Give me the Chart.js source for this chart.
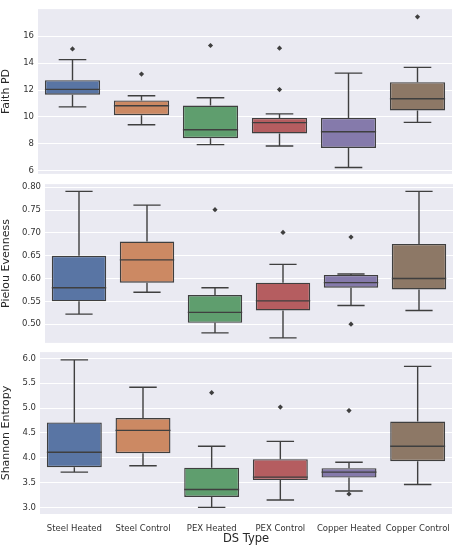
<!DOCTYPE html>
<html>
<head>
<meta charset="utf-8">
<script src="https://cdn.jsdelivr.net/npm/chart.js@4.4.1/dist/chart.umd.min.js"></script>
<style>
  html, body { margin: 0; padding: 0; background: #fff; }
  #wrap { position: relative; width: 461px; height: 550px; }
  .panel { position: absolute; left: 0; width: 461px; }
</style>
</head>
<body>
<div id="wrap">
  <div class="panel" style="top:0;height:183px"><canvas id="faith"></canvas></div>
  <div class="panel" style="top:175px;height:177px"><canvas id="pielou"></canvas></div>
  <div class="panel" style="top:343px;height:207px"><canvas id="shannon"></canvas></div>
</div>
<script>
// categories
const categories = ['Steel Heated', 'Steel Control', 'PEX Heated', 'PEX Control', 'Copper Heated', 'Copper Control'];
const boxColors = ['#5975a4', '#cc8963', '#5f9e6e', '#b55d60', '#857aab', '#8d7866'];

// Faith PD
const faithLow  = [10.75, 9.43, 7.95, 7.85, 6.25, 9.6];
const faithQ1   = [11.65, 10.13, 8.43, 8.78, 7.7, 10.48];
const faithMed  = [12.05, 10.83, 9.05, 9.58, 8.9, 11.35];
const faithQ3   = [12.73, 11.23, 10.85, 9.93, 9.93, 12.58];
const faithHigh = [14.25, 11.58, 11.43, 10.23, 13.25, 13.68];
const faithOut  = [[15.05], [13.18], [15.3], [15.1, 12.03], [], [17.43]];
const faithTicks = [6, 8, 10, 12, 14, 16];

// Pielou Evenness
const pielouLow  = [0.522, 0.570, 0.481, 0.470, 0.541, 0.530];
const pielouQ1   = [0.550, 0.591, 0.503, 0.530, 0.580, 0.576];
const pielouMed  = [0.580, 0.641, 0.526, 0.551, 0.591, 0.600];
const pielouQ3   = [0.650, 0.681, 0.564, 0.591, 0.608, 0.676];
const pielouHigh = [0.791, 0.761, 0.580, 0.631, 0.610, 0.791];
const pielouOut  = [[], [], [0.751], [0.701], [0.691, 0.500], []];
const pielouTicks = [0.50, 0.55, 0.60, 0.65, 0.70, 0.75, 0.80];

// Shannon Entropy
const shannonLow  = [3.71, 3.84, 3.00, 3.15, 3.33, 3.46];
const shannonQ1   = [3.81, 4.09, 3.21, 3.55, 3.60, 3.93];
const shannonMed  = [4.11, 4.55, 3.36, 3.61, 3.71, 4.23];
const shannonQ3   = [4.71, 4.80, 3.80, 3.97, 3.79, 4.73];
const shannonHigh = [5.97, 5.42, 4.23, 4.33, 3.91, 5.84];
const shannonOut  = [[], [], [5.31], [5.02], [4.95, 3.27], []];
const shannonTicks = [3.0, 3.5, 4.0, 4.5, 5.0, 5.5, 6.0];

const EDGE = '#3f3f3f';
const FONT = "'DejaVu Sans', sans-serif";

// фон области графика
const bgPlugin = {
    id: 'bg',
    beforeDraw(chart) {
        const { ctx, chartArea: a } = chart;
        ctx.save();
        ctx.fillStyle = '#eaeaf2';
        ctx.fillRect(a.left, a.top, a.right - a.left, a.bottom - a.top);
        ctx.restore();
    }
};

// усы и медиана (статистика берётся из options.plugins.boxparts)
const boxPlugin = {
    id: 'boxparts',
    beforeDatasetsDraw(chart, args, s) {
        if (!s || !s.low) return;
        const ys = chart.scales.y;
        const meta = chart.getDatasetMeta(0);
        const ctx = chart.ctx;
        ctx.save();
        ctx.strokeStyle = EDGE;
        ctx.lineWidth = 1.4;
        meta.data.forEach((bar, i) => {
            const x = bar.x;
            const cap = bar.width / 4;
            const pLow = ys.getPixelForValue(s.low[i]);
            const pQ1 = ys.getPixelForValue(s.q1[i]);
            const pQ3 = ys.getPixelForValue(s.q3[i]);
            const pHigh = ys.getPixelForValue(s.high[i]);
            ctx.beginPath();
            ctx.moveTo(x, pQ1); ctx.lineTo(x, pLow);
            ctx.moveTo(x - cap, pLow); ctx.lineTo(x + cap, pLow);
            ctx.moveTo(x, pQ3); ctx.lineTo(x, pHigh);
            ctx.moveTo(x - cap, pHigh); ctx.lineTo(x + cap, pHigh);
            ctx.stroke();
        });
        ctx.restore();
    },
    afterDatasetsDraw(chart, args, s) {
        if (!s || !s.med) return;
        const ys = chart.scales.y;
        const meta = chart.getDatasetMeta(0);
        const ctx = chart.ctx;
        ctx.save();
        ctx.strokeStyle = EDGE;
        ctx.lineWidth = 1.4;
        meta.data.forEach((bar, i) => {
            const half = bar.width / 2;
            const pMed = ys.getPixelForValue(s.med[i]);
            ctx.beginPath();
            ctx.moveTo(bar.x - half, pMed);
            ctx.lineTo(bar.x + half, pMed);
            ctx.stroke();
        });
        ctx.restore();
    }
};

function makeBoxChart(canvasId, opts) {
    const ctx = document.getElementById(canvasId).getContext('2d');
    const outlierPoints = [];
    opts.out.forEach((vals, i) => vals.forEach(v => outlierPoints.push({ x: categories[i], y: v })));

    return new Chart(ctx, {
        type: 'bar',
        data: {
            labels: categories,
            datasets: [
                {
                    data: categories.map((_, i) => [opts.q1[i], opts.q3[i]]),
                    backgroundColor: boxColors,
                    borderColor: EDGE,
                    borderWidth: 1.4,
                    borderSkipped: false,
                    barPercentage: 0.8,
                    categoryPercentage: 1.0
                },
                {
                    type: 'line',
                    data: outlierPoints,
                    showLine: false,
                    pointStyle: 'rectRot',
                    pointRadius: 2.6,
                    pointBackgroundColor: EDGE,
                    pointBorderColor: EDGE,
                    pointBorderWidth: 0
                }
            ]
        },
        options: {
            responsive: true,
            maintainAspectRatio: false,
            animation: false,
            layout: { padding: opts.padding },
            plugins: {
                legend: { display: false },
                tooltip: { enabled: false },
                boxparts: { low: opts.low, q1: opts.q1, med: opts.med, q3: opts.q3, high: opts.high }
            },
            scales: {
                x: {
                    display: opts.showX,
                    grid: { display: false },
                    border: { display: false },
                    ticks: { color: '#333', font: { family: FONT, size: 8.5 }, padding: 1.5, maxRotation: 0, autoSkip: false },
                    title: { display: opts.showX, text: 'DS Type', color: '#262626', font: { family: FONT, size: 11.5 }, padding: { top: 0, bottom: 0 } },
                    afterFit: (scale) => { if (opts.showX) scale.height = 32; }
                },
                y: {
                    min: opts.min,
                    max: opts.max,
                    grid: { color: '#ffffff', lineWidth: 1, drawTicks: false },
                    border: { display: false },
                    afterBuildTicks: (scale) => { scale.ticks = opts.ticks.map(v => ({ value: v })); },
                    ticks: {
                        color: '#333',
                        font: { family: FONT, size: 8.5 },
                        padding: 4,
                        callback: (v) => Number(v).toFixed(opts.digits)
                    },
                    title: { display: true, text: opts.title, color: '#262626', font: { family: FONT, size: 11 }, padding: { top: 0, bottom: 2 } },
                    afterFit: (scale) => { scale.width = opts.axisWidth; }
                }
            }
        },
        plugins: [bgPlugin, boxPlugin]
    });
}

makeBoxChart('faith', {
    low: faithLow, q1: faithQ1, med: faithMed, q3: faithQ3, high: faithHigh, out: faithOut,
    ticks: faithTicks, min: 5.78, max: 18.0, digits: 0, title: 'Faith PD',
    axisWidth: 38, padding: { top: 9, right: 9, bottom: 0, left: 0 }, showX: false
});

makeBoxChart('pielou', {
    low: pielouLow, q1: pielouQ1, med: pielouMed, q3: pielouQ3, high: pielouHigh, out: pielouOut,
    ticks: pielouTicks, min: 0.459, max: 0.807, digits: 2, title: 'Pielou Evenness',
    axisWidth: 45, padding: { top: 2, right: 8, bottom: 0, left: 0 }, showX: false
});

makeBoxChart('shannon', {
    low: shannonLow, q1: shannonQ1, med: shannonMed, q3: shannonQ3, high: shannonHigh, out: shannonOut,
    ticks: shannonTicks, min: 2.867, max: 6.127, digits: 1, title: 'Shannon Entropy',
    axisWidth: 40, padding: { top: 0, right: 9, bottom: 4, left: 0 }, showX: true
});
</script>
</body>
</html>
